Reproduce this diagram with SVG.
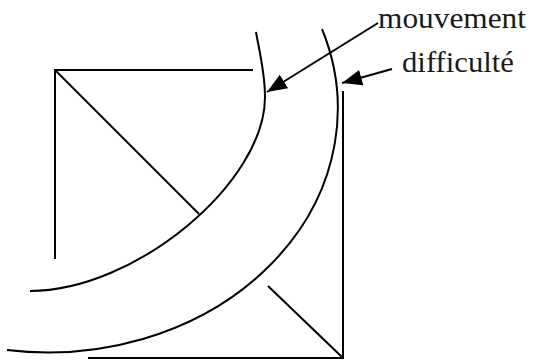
<svg xmlns="http://www.w3.org/2000/svg" width="534" height="360" viewBox="0 0 534 360">
  <style>
    .ln { fill: none; stroke: #000; stroke-width: 2; }
    .arc { fill: none; stroke: #000; stroke-width: 2; }
    .lbl { font-family: "Liberation Serif", "Times New Roman", serif; font-size: 30px; fill: #1a1a1a; }
  </style>
  <defs>
    <marker id="ah" markerUnits="userSpaceOnUse" markerWidth="22" markerHeight="18" refX="20" refY="8" orient="auto">
      <path d="M0,0 L20,8 L0,16 Z" fill="#000"/>
    </marker>
  </defs>
  <rect width="534" height="360" fill="#fff"/>
  <g id="square-top-left">
    <path class="ln" d="M253,70 L55,70 L55,259"/>
    <path class="ln" d="M55,70 L199,214"/>
  </g>
  <g id="square-bottom-right">
    <path class="ln" d="M343,91 L343,358 L88,358"/>
    <path class="ln" d="M343,358 L268,286"/>
  </g>
  <g id="arc-inner">
    <path class="arc" d="M256,32 C259,50 265,72 265,97 C265,183 135,291 30,291"/>
  </g>
  <g id="arc-outer">
    <path class="arc" d="M322,29 A290,244 0 0 1 7,350"/>
  </g>
  <g id="connectors">
    <path class="ln" d="M378,23 L267,92" marker-end="url(#ah)"/>
    <path class="ln" d="M392,69 L342,83" marker-end="url(#ah)"/>
  </g>
  <g id="label-mouvement">
    <text class="lbl" x="378" y="28" textLength="148" lengthAdjust="spacingAndGlyphs">mouvement</text>
  </g>
  <g id="label-difficulte">
    <text class="lbl" x="402" y="72" textLength="112" lengthAdjust="spacingAndGlyphs">difficulté</text>
  </g>
</svg>
